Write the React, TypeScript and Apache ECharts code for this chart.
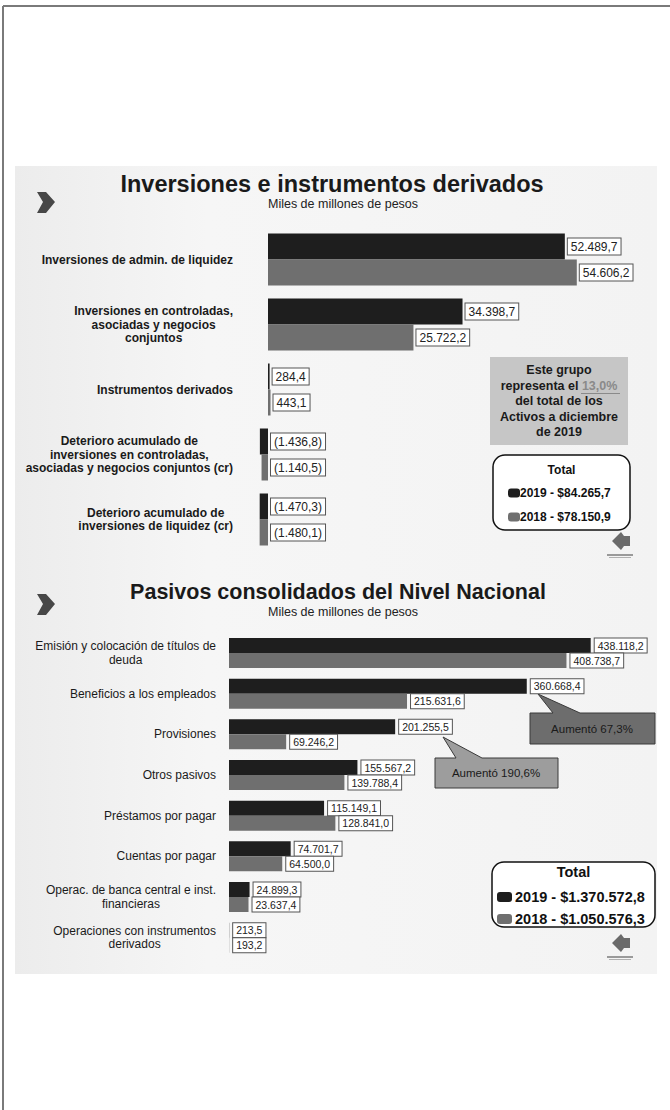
import React, { useEffect, useRef } from 'react';
import * as echarts from 'echarts';

// ---------- DATA ----------
const invCategories = [
  'Inversiones de admin. de liquidez',
  'Inversiones en controladas,\nasociadas y negocios\nconjuntos',
  'Instrumentos derivados',
  'Deterioro acumulado de\ninversiones en controladas,\nasociadas y negocios conjuntos (cr)',
  'Deterioro acumulado de\ninversiones de liquidez (cr)',
];
const inv2019 = [52489.7, 34398.7, 284.4, -1436.8, -1470.3];
const inv2018 = [54606.2, 25722.2, 443.1, -1140.5, -1480.1];

const pasCategories = [
  'Emisión y colocación de títulos de\ndeuda',
  'Beneficios a los empleados',
  'Provisiones',
  'Otros pasivos',
  'Préstamos por pagar',
  'Cuentas por pagar',
  'Operac. de banca central e inst.\nfinancieras',
  'Operaciones con instrumentos\nderivados',
];
const pas2019 = [438118.2, 360668.4, 201255.5, 155567.2, 115149.1, 74701.7, 24899.3, 213.5];
const pas2018 = [408738.7, 215631.6, 69246.2, 139788.4, 128841.0, 64500.0, 23637.4, 193.2];

const seriesNames = ['2019', '2018'];
const invTotals = ['$84.265,7', '$78.150,9'];
const pasTotals = ['$1.370.572,8', '$1.050.576,3'];
const invShare = '13,0%';
const callouts = ['Aumentó 67,3%', 'Aumentó 190,6%'];

// ---------- STYLE ----------
const FONT = '"Liberation Sans", Arial, Helvetica, sans-serif';
const DARK = '#1e1e1e';
const GRAY = '#6f6f6f';

function fmt(v: number): string {
  const neg = v < 0;
  const [i, d] = Math.abs(v).toFixed(1).split('.');
  const s = i.replace(/\B(?=(\d{3})+(?!\d))/g, '.') + ',' + d;
  return neg ? `(${s})` : s;
}

function centeredLines(v: string) {
  return v
    .split('\n')
    .map((l) => `{c|${l}}`)
    .join('\n');
}

function topLabel() {
  return {
    show: true,
    position: 'right',
    distance: 3,
    formatter: (p: any) => fmt(p.value),
    fontFamily: FONT,
    fontSize: 12,
    lineHeight: 13,
    color: '#222',
    backgroundColor: '#ffffff',
    borderColor: '#555',
    borderWidth: 1,
    padding: [2, 3, 1, 3],
  };
}

function bottomLabel() {
  return {
    show: true,
    position: 'right',
    distance: 4,
    formatter: (p: any) => fmt(p.value),
    fontFamily: FONT,
    fontSize: 10.5,
    lineHeight: 12,
    color: '#222',
    backgroundColor: '#ffffff',
    borderColor: '#555',
    borderWidth: 1,
    padding: [1, 3, 1, 3],
  };
}

function chevron(y: number) {
  return {
    type: 'polygon',
    z: 5,
    shape: {
      points: [
        [37, y],
        [46, y],
        [55, y + 10],
        [46, y + 21],
        [37, y + 21],
        [43, y + 10],
      ],
    },
    style: { fill: '#474747' },
  };
}

function logo(y: number) {
  return {
    type: 'group',
    z: 5,
    children: [
      {
        type: 'polygon',
        shape: {
          points: [
            [612, y + 9],
            [621, y],
            [624, y + 4],
            [630, y + 4],
            [630, y + 14],
            [624, y + 14],
            [621, y + 18],
          ],
        },
        style: { fill: '#6a6a6a' },
      },
      { type: 'rect', shape: { x: 607, y: y + 22, width: 26, height: 2 }, style: { fill: '#9a9a9a' } },
      { type: 'rect', shape: { x: 609, y: y + 25, width: 22, height: 1 }, style: { fill: '#b0b0b0' } },
    ],
  };
}

function legendBox(
  x: number,
  y: number,
  w: number,
  h: number,
  totals: string[],
  fontSize: number,
  rowY: number[],
  titleY: number,
  markerX: number,
  textX: number,
  markerW: number,
  markerH: number
) {
  return {
    type: 'group',
    z: 20,
    children: [
      {
        type: 'rect',
        shape: { x, y, width: w, height: h, r: 12 },
        style: { fill: '#ffffff', stroke: '#111', lineWidth: 1.5 },
      },
      {
        type: 'text',
        style: {
          text: 'Total',
          x: x + w / 2,
          y: titleY,
          align: 'center',
          verticalAlign: 'middle',
          fontFamily: FONT,
          fontWeight: 'bold',
          fontSize,
          fill: '#111',
        },
      },
      ...[0, 1].flatMap((i) => [
        {
          type: 'rect',
          shape: { x: markerX, y: rowY[i] - markerH / 2, width: markerW, height: markerH, r: 3 },
          style: { fill: i === 0 ? DARK : GRAY },
        },
        {
          type: 'text',
          style: {
            text: `${seriesNames[i]} - ${totals[i]}`,
            x: textX,
            y: rowY[i],
            align: 'left',
            verticalAlign: 'middle',
            fontFamily: FONT,
            fontWeight: 'bold',
            fontSize,
            fill: '#111',
          },
        },
      ]),
    ],
  };
}

function callout(points: number[][], fill: string, text: string, cx: number, cy: number) {
  return {
    type: 'group',
    z: 20,
    children: [
      {
        type: 'polygon',
        shape: { points },
        style: { fill, stroke: '#3a3a3a', lineWidth: 1 },
      },
      {
        type: 'text',
        style: {
          text,
          x: cx,
          y: cy,
          align: 'center',
          verticalAlign: 'middle',
          fontFamily: FONT,
          fontSize: 11.5,
          fill: '#1a1a1a',
        },
      },
    ],
  };
}

export default function App() {
  const ref = useRef<HTMLDivElement>(null);

  useEffect(() => {
    document.body.style.margin = '0';
    if (!ref.current) return;
    const chart = echarts.init(ref.current, undefined, { renderer: 'svg' });

    const invScale = 0.005655; // px per unit
    const invMin = -2000;
    const invMax = 60000;
    const invLeft = 268 - -invMin * invScale;
    const invWidth = (invMax - invMin) * invScale;

    const pasMax = 480000;
    const pasWidth = pasMax * 0.0008256;

    const option: any = {
      animation: false,
      backgroundColor: '#ffffff',
      title: [
        {
          text: 'Inversiones e instrumentos derivados',
          left: 327,
          top: 167,
          textAlign: 'center',
          textStyle: { fontFamily: FONT, fontSize: 23.5, fontWeight: 'bold', color: '#1a1a1a' },
        },
        {
          text: 'Miles de millones de pesos',
          left: 338,
          top: 192,
          textAlign: 'center',
          textStyle: { fontFamily: FONT, fontSize: 12.5, fontWeight: 'normal', color: '#222' },
        },
        {
          text: 'Pasivos consolidados del Nivel Nacional',
          left: 333,
          top: 576,
          textAlign: 'center',
          textStyle: { fontFamily: FONT, fontSize: 21.5, fontWeight: 'bold', color: '#1a1a1a' },
        },
        {
          text: 'Miles de millones de pesos',
          left: 338,
          top: 600,
          textAlign: 'center',
          textStyle: { fontFamily: FONT, fontSize: 12.5, fontWeight: 'normal', color: '#222' },
        },
      ],
      grid: [
        { left: invLeft, width: invWidth, top: 227, height: 325 },
        { left: 229, width: pasWidth, top: 632.7, height: 325.3 },
      ],
      xAxis: [
        { type: 'value', gridIndex: 0, min: invMin, max: invMax, show: false, splitLine: { show: false } },
        { type: 'value', gridIndex: 1, min: 0, max: pasMax, show: false, splitLine: { show: false } },
      ],
      yAxis: [
        {
          type: 'category',
          gridIndex: 0,
          data: invCategories,
          inverse: true,
          axisLine: { show: false, onZero: false },
          axisTick: { show: false },
          axisLabel: {
            margin: invLeft - 233,
            formatter: centeredLines,
            rich: {
              c: {
                align: 'center',
                fontFamily: FONT,
                fontSize: 12,
                fontWeight: 'bold',
                lineHeight: 13.5,
                color: '#1a1a1a',
              },
            },
          },
        },
        {
          type: 'category',
          gridIndex: 1,
          data: pasCategories,
          inverse: true,
          axisLine: { show: false, onZero: false },
          axisTick: { show: false },
          axisLabel: {
            margin: 13,
            formatter: centeredLines,
            rich: {
              c: {
                align: 'center',
                fontFamily: FONT,
                fontSize: 12,
                lineHeight: 13.5,
                color: '#1a1a1a',
              },
            },
          },
        },
      ],
      series: [
        {
          name: seriesNames[0],
          type: 'bar',
          xAxisIndex: 0,
          yAxisIndex: 0,
          data: inv2019,
          barWidth: 26,
          barGap: '0%',
          itemStyle: { color: DARK },
          label: topLabel(),
          z: 3,
        },
        {
          name: seriesNames[1],
          type: 'bar',
          xAxisIndex: 0,
          yAxisIndex: 0,
          data: inv2018,
          barWidth: 26,
          barGap: '0%',
          itemStyle: { color: GRAY },
          label: topLabel(),
          z: 3,
        },
        {
          name: seriesNames[0],
          type: 'bar',
          xAxisIndex: 1,
          yAxisIndex: 1,
          data: pas2019,
          barWidth: 15,
          barGap: '0%',
          itemStyle: { color: DARK },
          label: bottomLabel(),
          z: 3,
        },
        {
          name: seriesNames[1],
          type: 'bar',
          xAxisIndex: 1,
          yAxisIndex: 1,
          data: pas2018,
          barWidth: 15,
          barGap: '0%',
          itemStyle: { color: GRAY },
          label: bottomLabel(),
          z: 3,
        },
      ],
      graphic: [
        // page border
        { type: 'line', z: -5, shape: { x1: 3, y1: 6, x2: 670, y2: 6 }, style: { stroke: '#7a7a7a', lineWidth: 2 } },
        { type: 'line', z: -5, shape: { x1: 3, y1: 6, x2: 3, y2: 1110 }, style: { stroke: '#7a7a7a', lineWidth: 2 } },
        // panel background
        {
          type: 'rect',
          z: -10,
          shape: { x: 15, y: 166, width: 642, height: 808 },
          style: {
            fill: new echarts.graphic.LinearGradient(0, 0, 1, 0, [
              { offset: 0, color: '#ececec' },
              { offset: 0.3, color: '#f6f6f6' },
              { offset: 1, color: '#f3f3f3' },
            ]),
          },
        },
        chevron(192),
        chevron(594),
        logo(532),
        logo(934),
        // info box
        {
          type: 'group',
          z: 20,
          children: [
            {
              type: 'rect',
              shape: { x: 490, y: 357, width: 138, height: 88 },
              style: { fill: '#c6c6c6' },
            },
            {
              type: 'text',
              style: {
                text: `Este grupo\nrepresenta el {u|${invShare}}\ndel total de los\nActivos a diciembre\nde 2019`,
                x: 559,
                y: 401,
                align: 'center',
                verticalAlign: 'middle',
                fontFamily: FONT,
                fontWeight: 'bold',
                fontSize: 12.5,
                lineHeight: 15.5,
                fill: '#1a1a1a',
                rich: {
                  u: {
                    fontFamily: FONT,
                    fontWeight: 'bold',
                    fontSize: 12.5,
                    lineHeight: 15.5,
                    fill: '#8a8a8a',
                  },
                },
              },
            },
            {
              type: 'line',
              shape: { x1: 581, y1: 393.5, x2: 620, y2: 393.5 },
              style: { stroke: '#8a8a8a', lineWidth: 1 },
            },
          ],
        },
        legendBox(493, 455, 137, 75, invTotals, 12, [493, 517], 470, 508, 520, 12, 9),
        legendBox(492, 862, 163, 65, pasTotals, 14.5, [897, 919], 872, 497, 515, 15, 10),
        callout(
          [
            [530, 713],
            [553, 713],
            [538, 694],
            [580, 713],
            [655, 713],
            [655, 744],
            [530, 744],
          ],
          '#6d6d6d',
          callouts[0],
          592,
          729
        ),
        callout(
          [
            [435, 758],
            [456, 758],
            [443, 737],
            [482, 758],
            [558, 758],
            [558, 788],
            [435, 788],
          ],
          '#9d9d9d',
          callouts[1],
          496,
          773
        ),
      ],
    };

    chart.setOption(option);
    return () => chart.dispose();
  }, []);

  return <div ref={ref} style={{ width: 670, height: 1110 }} />;
}
